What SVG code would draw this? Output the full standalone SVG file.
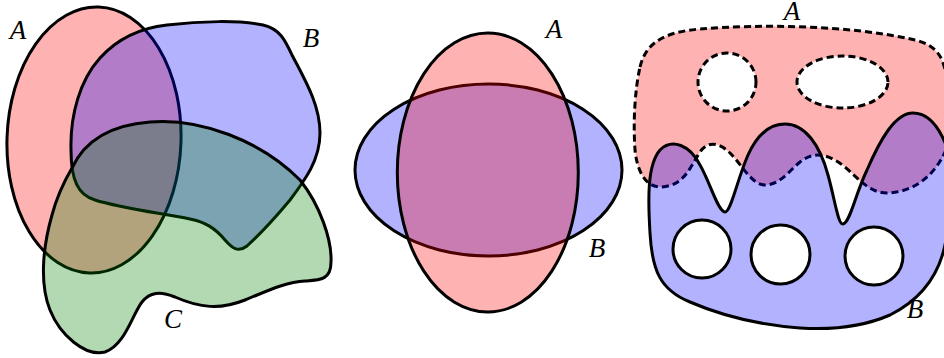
<svg xmlns="http://www.w3.org/2000/svg" width="944" height="358" viewBox="0 0 944 358">
<style>
.s{stroke:#000;stroke-width:3;stroke-linejoin:round}
.r{fill:#ff0000;fill-opacity:0.3}
.b{fill:#0000ff;fill-opacity:0.3}
.g{fill:#008000;fill-opacity:0.3}
.d{stroke-dasharray:7 4}
.eo{fill-rule:evenodd}
.lbl{font-family:"Liberation Serif","Times New Roman",serif;font-style:italic;font-size:27px;fill:#000;text-anchor:middle}
</style>
<rect width="944" height="358" fill="#fff"/>
<g id="venn1">
  <g id="v1-A">
    <ellipse class="s r" cx="94" cy="140" rx="87" ry="133" transform="rotate(2 94 140)"/>
    <text class="lbl" x="18" y="39">A</text>
  </g>
  <g id="v1-B">
    <path class="s b" d="M71,150 C70,115 80,80 100,58 C118,38 140,28 167,25 C200,21 240,20 263,25 C280,29 285,40 292,55 C305,80 320,105 320,133 C320,160 305,180 290,200 C275,218 258,236 247,246 C238,253 232,248 225,240 C215,228 205,222 190,219 C160,213 120,208 95,200 C78,195 71,180 71,150 Z"/>
    <text class="lbl" x="311" y="47">B</text>
  </g>
  <g id="v1-C">
    <path class="s g" d="M72,168 C85,140 110,125 150,122 C200,118 260,140 300,180 C320,205 332,240 331,262 C331,280 320,280 305,281 C285,282 265,292 245,300 C220,310 200,308 175,297 C160,291 150,292 142,302 C132,315 125,345 105,352 C85,357 60,335 50,310 C40,285 42,250 52,215 C56,200 62,185 72,168 Z"/>
    <text class="lbl" x="173" y="328">C</text>
  </g>
</g>
<g id="venn2">
  <g id="v2-B">
    <ellipse class="s b" cx="488.5" cy="170" rx="133.5" ry="86"/>
    <text class="lbl" x="597" y="257">B</text>
  </g>
  <g id="v2-A">
    <ellipse class="s r" cx="487.8" cy="172.5" rx="90.5" ry="139.5"/>
    <text class="lbl" x="554" y="38">A</text>
  </g>
</g>
<g id="venn3">
  <g id="v3-A">
    <path class="s r d eo" d="M640,67 C646,42 665,32 700,29 C760,24 850,25 915,40 C935,45 943,55 946,75 L946,150 C935,175 915,192 887,193 C870,193 860,180 845,167 C830,155 815,150 800,162 C790,170 780,185 765,185 C752,185 742,165 730,153 C720,143 708,140 700,152 C690,167 685,185 662,187 C645,188 637,170 635,150 C633,120 635,90 640,67 Z M756,82 A29,29 0 1 0 698,82 A29,29 0 1 0 756,82 Z M888,82 A45.5,26 0 1 0 797,82 A45.5,26 0 1 0 888,82 Z"/>
    <text class="lbl" x="792" y="20">A</text>
  </g>
  <g id="v3-B">
    <path class="s b eo" d="M650,233 C648,200 647,165 660,150 C672,138 690,145 700,165 C710,182 718,212 725,212 C731,212 737,180 748,155 C758,133 770,124 785,124 C805,124 820,145 828,175 C835,200 838,225 843,224 C850,223 855,195 867,170 C880,140 895,113 913,113 C930,113 940,130 946,145 L946,240 C940,275 920,300 890,315 C860,328 830,330 800,328 C760,325 720,315 690,302 C660,290 652,270 650,233 Z M731,249 A29,29 0 1 0 673,249 A29,29 0 1 0 731,249 Z M810,254.5 A29.5,29.5 0 1 0 751,254.5 A29.5,29.5 0 1 0 810,254.5 Z M903,256 A29,29 0 1 0 845,256 A29,29 0 1 0 903,256 Z"/>
    <text class="lbl" x="915" y="318">B</text>
  </g>
</g>
</svg>
